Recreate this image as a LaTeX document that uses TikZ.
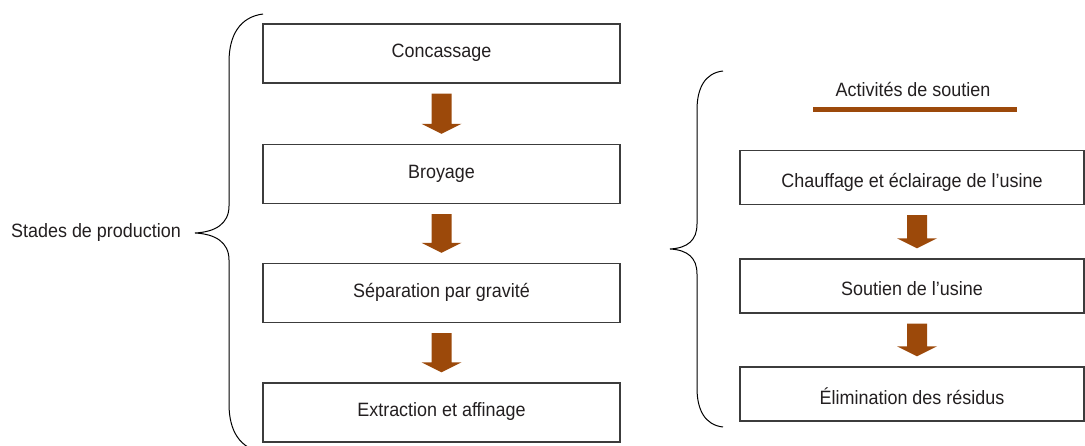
\documentclass[tikz,border=0pt]{standalone}
\usepackage{fontspec}
\setmainfont[FakeStretch=0.93]{Liberation Sans}
\usepackage{xcolor}
\usepackage{tikz}
\usetikzlibrary{positioning,calc}

\definecolor{arrowbrown}{RGB}{156,73,10}
\definecolor{inkgray}{RGB}{35,31,32}
\definecolor{boxgray}{RGB}{60,60,60}

\tikzset{
    stagebox/.style={draw=boxgray, line width=1.3pt, fill=white, text=inkgray,
        minimum width=357pt, minimum height=59pt, inner sep=0pt,
        font=\fontsize{19.3}{22}\selectfont, text height=13pt, text depth=4pt},
    supportbox/.style={stagebox, minimum width=344pt, minimum height=54pt,
        text height=20pt, text depth=0pt},
    bracestroke/.style={draw=black, line width=1pt},
    plaintext/.style={text=inkgray, inner sep=0pt, font=\fontsize{19.3}{22}\selectfont}
}

% block arrow from the bottom of one box to the top of the next
% (optional argument: horizontal offset of the arrow)
\newcommand{\blockarrow}[3][0]{%
    \fill[arrowbrown] ($(#2.south)+(#1-10,10)$) -- ($(#2.south)+(#1+10,10)$)
        -- ($(#3.north)+(#1+10,-20)$) -- ($(#3.north)+(#1+20,-20)$)
        -- ($(#3.north)+(#1,-10)$) -- ($(#3.north)+(#1-20,-20)$)
        -- ($(#3.north)+(#1-10,-20)$) -- cycle;}

\begin{document}
\begin{tikzpicture}[x=1pt, y=-1pt]
    \useasboundingbox (0,0) rectangle (1085,446);

    % Production stages
    \node[stagebox] (crush) at (441.5,53.5) {Concassage};
    \node[stagebox] (grind) at (441.5,174) {Broyage};
    \node[stagebox] (sep) at (441.5,293) {Séparation par gravité};
    \node[stagebox] (extract) at (441.5,412.5) {Extraction et affinage};

    \blockarrow{crush}{grind}
    \blockarrow{grind}{sep}
    \blockarrow{sep}{extract}

    % left brace
    \draw[bracestroke] (263,14) .. controls (240,17) and (229,35) .. (229,62)
        -- (229,206) .. controls (229,224) and (215,232) .. (195,233)
        .. controls (215,234) and (229,242) .. (229,260)
        -- (229,404) .. controls (229,431) and (240,449) .. (263,452);
    \node[plaintext, anchor=east] (stages) at (181,233) {Stades de production};

    % Support activities
    \node[plaintext] (support) at (913,89) {Activités de soutien};
    \draw[arrowbrown, line width=5pt] (813,109.5) -- (1017,109.5);

    \node[supportbox] (heat) at (912,177.5) {Chauffage et éclairage de l’usine};
    \node[supportbox] (plant) at (912,286) {Soutien de l’usine};
    \node[supportbox] (waste) at (912,394) {Élimination des résidus};

    \blockarrow[5]{heat}{plant}
    \blockarrow[5]{plant}{waste}

    % right brace
    \draw[bracestroke] (723,71) .. controls (705,73) and (697,88) .. (697,110)
        -- (697,224) .. controls (697,240) and (688,248) .. (670,249)
        .. controls (688,250) and (697,258) .. (697,274)
        -- (697,388) .. controls (697,410) and (705,425) .. (723,427);
\end{tikzpicture}
\end{document}
